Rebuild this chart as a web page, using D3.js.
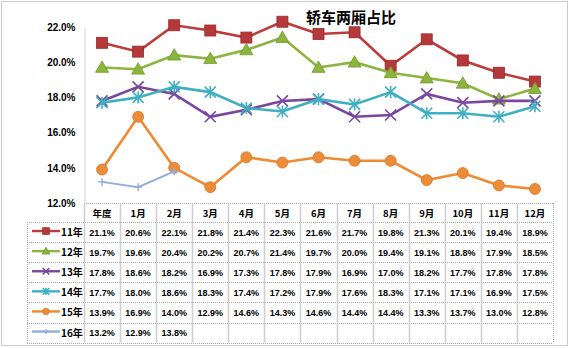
<!DOCTYPE html>
<html><head><meta charset="utf-8">
<script src="https://cdn.jsdelivr.net/npm/d3@7"></script>
<style>body{margin:0;background:#fff}svg{display:block}</style>
</head><body>
<script>
const categories = ["年度","1月","2月","3月","4月","5月","6月","7月","8月","9月","10月","11月","12月"];
const seriesNames = ["11年","12年","13年","14年","15年","16年"];
const s11 = [21.1,20.6,22.1,21.8,21.4,22.3,21.6,21.7,19.8,21.3,20.1,19.4,18.9];
const s12 = [19.7,19.6,20.4,20.2,20.7,21.4,19.7,20.0,19.4,19.1,18.8,17.9,18.5];
const s13 = [17.8,18.6,18.2,16.9,17.3,17.8,17.9,16.9,17.0,18.2,17.7,17.8,17.8];
const s14 = [17.7,18.0,18.6,18.3,17.4,17.2,17.9,17.6,18.3,17.1,17.1,16.9,17.5];
const s15 = [13.9,16.9,14.0,12.9,14.6,14.3,14.6,14.4,14.4,13.3,13.7,13.0,12.8];
const s16 = [13.2,12.9,13.8];
const yTicks = [12,14,16,18,20,22];
const chartTitle = "轿车两厢占比";

const colors = ["#BE3B3A","#8DB43E","#7A47A0","#3FAFC2","#EF8A31","#93ADDD"];
const markers = ["square","triangle","x","star","circle","plus"];
const allSeries = [s11,s12,s13,s14,s15,s16];

(function(){
const W=572,H=348;
const svg=d3.select("body").append("svg").attr("width",W).attr("height",H);
svg.append("rect").attr("x",1.5).attr("y",1.5).attr("width",566).attr("height",344)
  .attr("fill","none").attr("stroke","#999").attr("stroke-dasharray","1,1");

const pL=84,pR=553,pT=27,pB=203;
const x=d3.scaleBand().domain(categories).range([pL,pR]);
const y=d3.scaleLinear().domain([12,22]).range([pB,pT]);

svg.append("text").attr("x",351).attr("y",23).attr("text-anchor","middle")
  .attr("font-family","Noto Sans CJK SC").attr("font-weight","bold").attr("font-size",15).text(chartTitle);

const yAxis=d3.axisLeft(y).tickValues(yTicks).tickSize(0).tickPadding(9).tickFormat(d=>d.toFixed(1)+"%");
const ga=svg.append("g").attr("transform",`translate(${pL+0.5},0)`).call(yAxis);
ga.select(".domain").attr("stroke","#aaa").attr("stroke-dasharray","1,1");
ga.selectAll("text").attr("font-family","Arial, Liberation Sans").attr("font-weight","bold").attr("font-size",10).attr("fill","#000");

function drawMarker(g,type,cx,cy,color,scale=1){
  const s=scale;
  if(type==="square"){
    g.append("rect").attr("x",cx-5.5*s).attr("y",cy-5.5*s).attr("width",11*s).attr("height",11*s).attr("fill","#B5383A").attr("stroke","#9a2a2a").attr("stroke-width",0.8);
  } else if(type==="triangle"){
    const r=6.5*s;
    g.append("path").attr("d",`M${cx},${cy-r}L${cx+r},${cy+r*0.75}L${cx-r},${cy+r*0.75}Z`).attr("fill","#8DB43E").attr("stroke","#6f9a28").attr("stroke-width",0.8);
  } else if(type==="x"){
    const r=5.5*s;
    g.append("path").attr("d",`M${cx-r},${cy-r}L${cx+r},${cy+r}M${cx-r},${cy+r}L${cx+r},${cy-r}`).attr("stroke",color).attr("stroke-width",1.6);
  } else if(type==="star"){
    const r=5.5*s;
    g.append("path").attr("d",`M${cx-r},${cy-r}L${cx+r},${cy+r}M${cx-r},${cy+r}L${cx+r},${cy-r}M${cx},${cy-r*1.1}L${cx},${cy+r*1.1}`).attr("stroke",color).attr("stroke-width",1.6);
  } else if(type==="circle"){
    g.append("circle").attr("cx",cx).attr("cy",cy).attr("r",5.5*s).attr("fill","#EC8C38").attr("stroke","#d9762a").attr("stroke-width",0.8);
  } else if(type==="plus"){
    const r=4*s;
    g.append("path").attr("d",`M${cx-r},${cy}L${cx+r},${cy}M${cx},${cy-r}L${cx},${cy+r}`).attr("stroke",color).attr("stroke-width",1.4);
  }
}

const line=d3.line().x((d,i)=>x(categories[i])+x.bandwidth()/2).y(d=>y(d));
allSeries.forEach((s,k)=>{
  const g=svg.append("g");
  g.append("path").datum(s).attr("d",line).attr("fill","none").attr("stroke",colors[k]).attr("stroke-width",k===5?2:2.6);
  s.forEach((v,i)=>drawMarker(g,markers[k],x(categories[i])+x.bandwidth()/2,y(v),colors[k]));
});

const hdrTop=203,hdrH=19,rowH=20.1,legLeft=27;
const hgrid=svg.append("g").attr("stroke","#a6a6a6").attr("stroke-width",1).attr("stroke-dasharray","1,1");
const vgrid=svg.append("g").attr("stroke","#cfcfcf").attr("stroke-width",1.6);
const tblBottom=hdrTop+hdrH+rowH*seriesNames.length;
hgrid.append("line").attr("x1",pL).attr("x2",pR).attr("y1",hdrTop+0.5).attr("y2",hdrTop+0.5);
for(let r=0;r<=seriesNames.length;r++){
  const yy=Math.round(hdrTop+hdrH+rowH*r)+0.5;
  hgrid.append("line").attr("x1",legLeft).attr("x2",pR).attr("y1",yy).attr("y2",yy);
}
categories.forEach((c,i)=>{
  const xx=Math.round(x(c))+0.5;
  vgrid.append("line").attr("x1",xx).attr("x2",xx).attr("y1",hdrTop).attr("y2",tblBottom);
});
vgrid.append("line").attr("x1",pR+0.5).attr("x2",pR+0.5).attr("y1",hdrTop).attr("y2",tblBottom).attr("stroke","#a6a6a6").attr("stroke-width",1).attr("stroke-dasharray","1,1");
vgrid.append("line").attr("x1",legLeft+0.5).attr("x2",legLeft+0.5).attr("y1",hdrTop+hdrH).attr("y2",tblBottom).attr("stroke","#a6a6a6").attr("stroke-width",1).attr("stroke-dasharray","1,1");

const tf="Arial, Liberation Sans";
svg.append("g").selectAll("text").data(categories).join("text")
  .attr("x",d=>x(d)+x.bandwidth()/2).attr("y",hdrTop+hdrH/2+4).attr("text-anchor","middle")
  .attr("font-family","Noto Sans CJK SC, Arial").attr("font-weight","bold").attr("font-size",9.5).text(d=>d);

seriesNames.forEach((n,k)=>{
  const cy=hdrTop+hdrH+rowH*k+rowH/2;
  const g=svg.append("g");
  g.append("line").attr("x1",32).attr("x2",60).attr("y1",cy-1).attr("y2",cy-1).attr("stroke",colors[k]).attr("stroke-width",2.4);
  drawMarker(g,markers[k],46,cy-1,colors[k],0.6);
  g.append("text").attr("x",61).attr("y",cy+4).attr("font-family","Noto Sans CJK SC, Arial").attr("font-weight","bold").attr("font-size",10).text(n);
  allSeries[k].forEach((v,i)=>{
    g.append("text").attr("x",x(categories[i])+x.bandwidth()/2).attr("y",cy+3.5).attr("text-anchor","middle")
      .attr("font-family",tf).attr("font-weight","bold").attr("font-size",9).text(v.toFixed(1)+"%");
  });
});
})();
</script>
</body></html>
